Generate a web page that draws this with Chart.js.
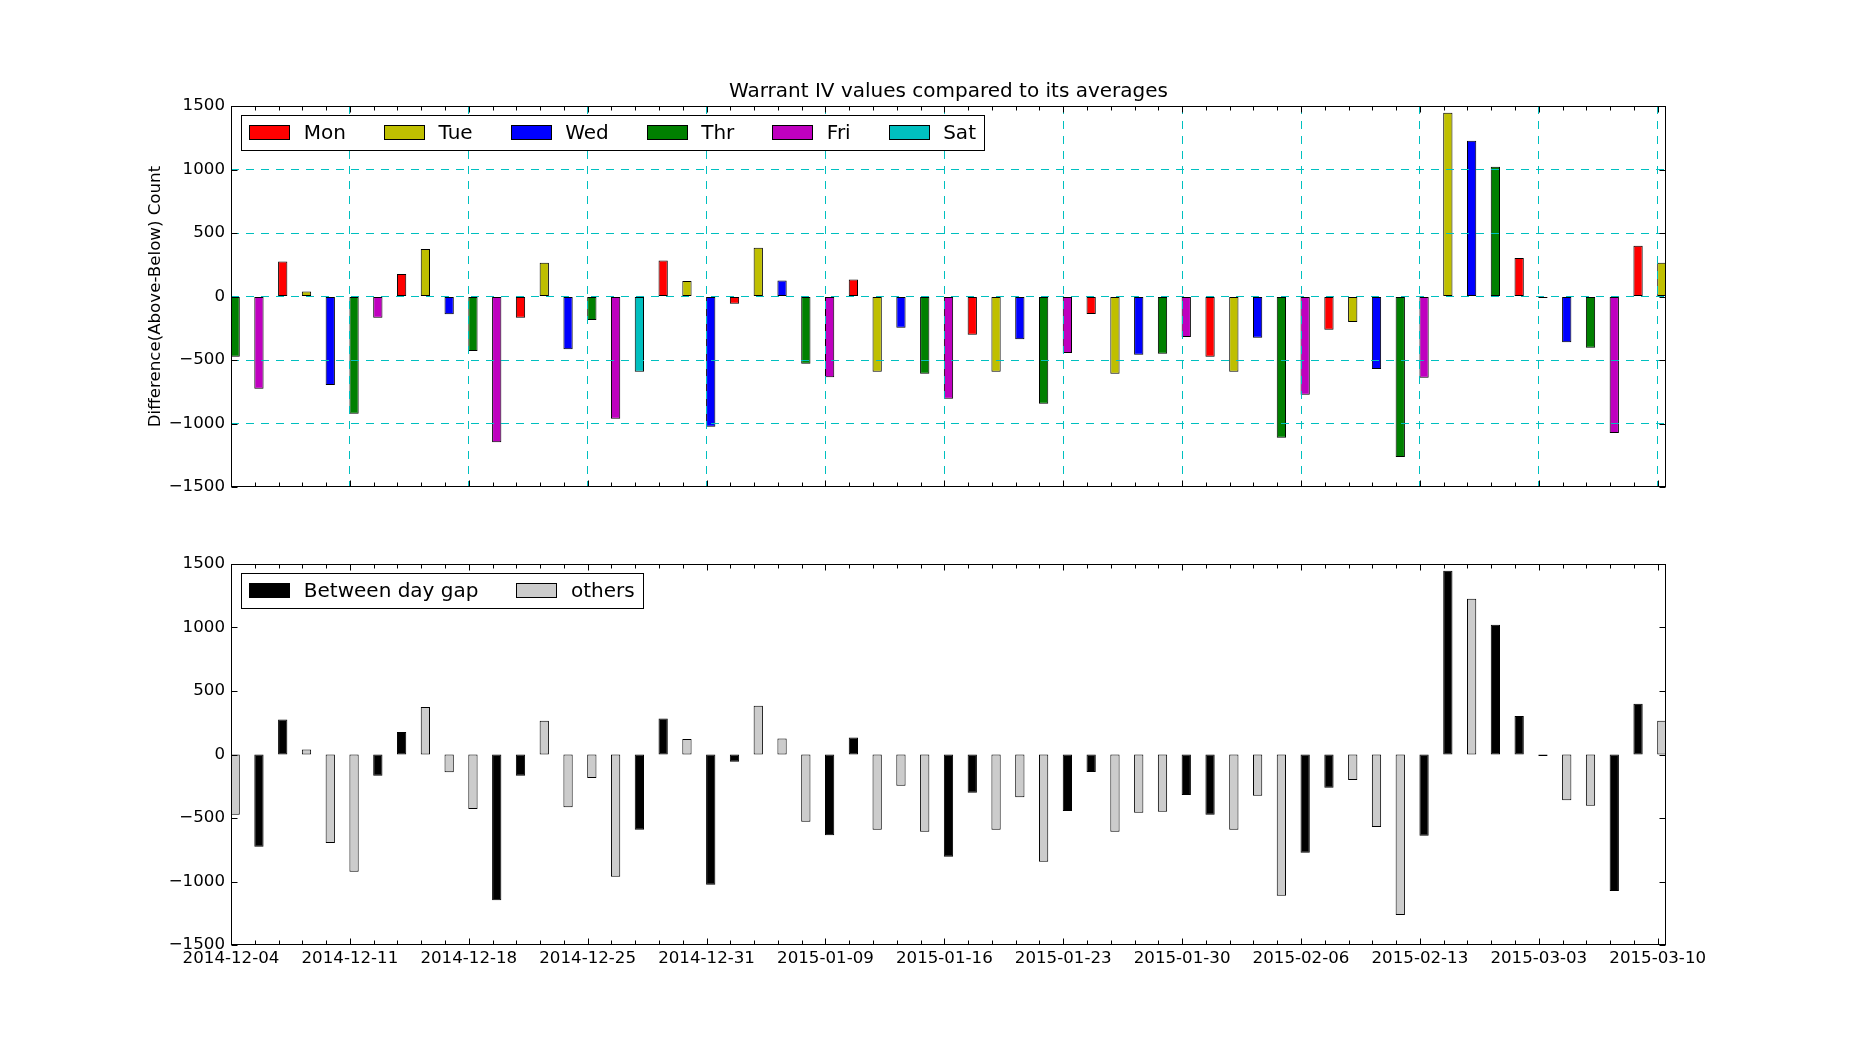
<!DOCTYPE html>
<html>
<head>
<meta charset="utf-8">
<script src="https://cdn.jsdelivr.net/npm/chart.js@4.4.1/dist/chart.umd.min.js"></script>
<style>
  html, body { margin: 0; padding: 0; background: #fff; width: 1850px; height: 1050px; overflow: hidden; }
  canvas { position: absolute; left: 0; }
  #topChart { top: 0; }
  #bottomChart { top: 525px; }
</style>
</head>
<body>
<canvas id="topChart" width="1850" height="525"></canvas>
<canvas id="bottomChart" width="1850" height="525"></canvas>
<script>
// ---------------- data ----------------
const dates = [
  '2014-12-04','2014-12-05','2014-12-08','2014-12-09','2014-12-10','2014-12-11','2014-12-12','2014-12-15','2014-12-16','2014-12-17',
  '2014-12-18','2014-12-19','2014-12-22','2014-12-23','2014-12-24','2014-12-25','2014-12-26','2014-12-27','2014-12-29','2014-12-30',
  '2014-12-31','2015-01-05','2015-01-06','2015-01-07','2015-01-08','2015-01-09','2015-01-12','2015-01-13','2015-01-14','2015-01-15',
  '2015-01-16','2015-01-19','2015-01-20','2015-01-21','2015-01-22','2015-01-23','2015-01-26','2015-01-27','2015-01-28','2015-01-29',
  '2015-01-30','2015-02-02','2015-02-03','2015-02-04','2015-02-05','2015-02-06','2015-02-09','2015-02-10','2015-02-11','2015-02-12',
  '2015-02-13','2015-02-24','2015-02-25','2015-02-26','2015-03-02','2015-03-03','2015-03-04','2015-03-05','2015-03-06','2015-03-09',
  '2015-03-10'
];
const weekdays = [
  'Thr','Fri','Mon','Tue','Wed','Thr','Fri','Mon','Tue','Wed',
  'Thr','Fri','Mon','Tue','Wed','Thr','Fri','Sat','Mon','Tue',
  'Wed','Mon','Tue','Wed','Thr','Fri','Mon','Tue','Wed','Thr',
  'Fri','Mon','Tue','Wed','Thr','Fri','Mon','Tue','Wed','Thr',
  'Fri','Mon','Tue','Wed','Thr','Fri','Mon','Tue','Wed','Thr',
  'Fri','Tue','Wed','Thr','Mon','Tue','Wed','Thr','Fri','Mon',
  'Tue'
];
const diffValues = [
  -475, -727, 276, 39, -696, -924, -168, 178, 375, -139,
  -430, -1147, -168, 265, -415, -186, -963, -593, 283, 123,
  -1026, -58, 383, 126, -530, -635, 134, -593, -247, -609,
  -806, -302, -593, -336, -845, -444, -137, -609, -459, -451,
  -318, -475, -593, -325, -1113, -774, -262, -200, -570, -1263,
  -640, 1446, 1226, 1021, 304, -12, -360, -404, -1074, 399,
  265
];
// 1 = day next to a non-trading gap ("Between day gap"), 0 = others
const gapDay = [
  0, 1, 1, 0, 0, 0, 1, 1, 0, 0,
  0, 1, 1, 0, 0, 0, 0, 1, 1, 0,
  1, 1, 0, 0, 0, 1, 1, 0, 0, 0,
  1, 1, 0, 0, 0, 1, 1, 0, 0, 0,
  1, 1, 0, 0, 0, 1, 1, 0, 0, 0,
  1, 1, 0, 1, 1, 0, 0, 0, 1, 1,
  0
];
const dayNames = ['Mon', 'Tue', 'Wed', 'Thr', 'Fri', 'Sat'];
const dayColors = ['#ff0000', '#bfbf00', '#0000ff', '#008000', '#bf00bf', '#00bfbf'];
const gapNames = ['Between day gap', 'others'];
const gapColors = ['#000000', '#cccccc'];
const chartTitle = 'Warrant IV values compared to its averages';
const yAxisTitle = 'Difference(Above-Below) Count';
const yRange = [-1500, 1500];
const yStep = 500;
const labelEvery = 5;

// ---------------- style ----------------
const FONT = 'DejaVu Sans';
const GRID_CYAN = '#00bfbf';
const NONE = 'rgba(0,0,0,0)';
const BAR_W = 0.35;              // bar width in index units (edge aligned)
const X_MAX = dates.length - 1 + BAR_W;

Chart.defaults.font.family = FONT;
Chart.defaults.font.size = 16.67;
Chart.defaults.color = '#000';

const mplDecor = {
  id: 'mplDecor',
  afterDraw(chart, args, o) {
    const { ctx, chartArea: a, scales: { x, y } } = chart;
    const L = Math.round(a.left) + 0.5, R = Math.round(a.right) - 0.5;
    const T = Math.round(a.top) + 0.5, B = Math.round(a.bottom) - 0.5;
    ctx.save();
    ctx.strokeStyle = '#000';
    ctx.lineWidth = 1;
    ctx.setLineDash([]);
    ctx.beginPath();
    x.ticks.forEach(t => {
      const px = Math.round(x.getPixelForValue(t.value)) + 0.5;
      const len = (Math.round(t.value) % labelEvery === 0) ? 6 : 4;
      ctx.moveTo(px, B); ctx.lineTo(px, B - len);
      ctx.moveTo(px, T); ctx.lineTo(px, T + len);
    });
    y.ticks.forEach(t => {
      const py = Math.round(y.getPixelForValue(t.value)) + 0.5;
      ctx.moveTo(L, py); ctx.lineTo(L + 6, py);
      ctx.moveTo(R, py); ctx.lineTo(R - 6, py);
    });
    ctx.stroke();
    ctx.strokeRect(L, T, R - L, B - T);

    if (o.title) {
      ctx.fillStyle = '#000';
      ctx.font = '20px "' + FONT + '"';
      ctx.textAlign = 'center';
      ctx.textBaseline = 'alphabetic';
      ctx.fillText(o.title, (a.left + a.right) / 2, a.top - 9);
    }

    if (o.legend) {
      const items = o.legend;
      ctx.font = '20px "' + FONT + '"';
      const padX = 8.3, handleW = 40, handleH = 14, textPad = 14.5, colSp = 38, h = 35;
      const left = Math.round(a.left) + 10, top = Math.round(a.top) + 9;
      let w = 2 * padX;
      items.forEach((it, k) => {
        w += handleW + textPad + ctx.measureText(it.label).width + (k < items.length - 1 ? colSp : 0);
      });
      w = Math.round(w);
      ctx.fillStyle = '#fff';
      ctx.fillRect(left, top, w, h);
      ctx.strokeStyle = '#000';
      ctx.strokeRect(left + 0.5, top + 0.5, w, h);
      let xx = left + padX;
      const cy = top + 16.5;
      items.forEach(it => {
        const hx = Math.round(xx);
        ctx.fillStyle = it.color;
        ctx.fillRect(hx, Math.round(cy - handleH / 2), handleW, handleH);
        ctx.strokeRect(hx + 0.5, Math.round(cy - handleH / 2) + 0.5, handleW, handleH);
        ctx.fillStyle = '#000';
        ctx.textAlign = 'left';
        ctx.textBaseline = 'alphabetic';
        ctx.fillText(it.label, xx + handleW + textPad, cy + 7);
        xx += handleW + textPad + ctx.measureText(it.label).width + colSp;
      });
    }
    ctx.restore();
  }
};

function yScale(withGrid, withTitle) {
  return {
    type: 'linear',
    min: yRange[0],
    max: yRange[1],
    afterFit: s => { s.width = 90; },
    ticks: {
      stepSize: yStep,
      padding: 6,
      callback: v => String(v).replace('-', '\u2212')
    },
    grid: {
      display: withGrid,
      drawTicks: false,
      lineWidth: 1,
      z: 1,
      color: c => (c.tick && (c.tick.value === yRange[0] || c.tick.value === yRange[1])) ? NONE : GRID_CYAN
    },
    border: { display: false, dash: [8, 7] },
    title: {
      display: withTitle,
      text: yAxisTitle,
      font: { size: 16.67 },
      padding: { top: 5, bottom: 0 }
    }
  };
}

function xScale(showLabels, withGrid, height) {
  return {
    type: 'linear',
    min: 0,
    max: X_MAX,
    offset: false,
    bounds: 'data',
    afterFit: s => { s.height = height; },
    ticks: {
      display: showLabels,
      stepSize: 1,
      includeBounds: false,
      autoSkip: false,
      maxRotation: 0,
      minRotation: 0,
      padding: 4,
      callback: v => {
        const i = Math.round(v);
        return (Math.abs(v - i) < 1e-6 && i % labelEvery === 0 && dates[i]) ? dates[i] : '';
      }
    },
    grid: {
      display: withGrid,
      offset: false,
      drawTicks: false,
      lineWidth: 1,
      z: 1,
      color: c => {
        if (!c.tick) return NONE;
        const i = Math.round(c.tick.value);
        return (i > 0 && i % labelEvery === 0) ? GRID_CYAN : NONE;
      }
    },
    border: { display: false, dash: [8, 7] }
  };
}

const barStyle = {
  borderColor: '#000',
  borderWidth: 1,
  borderSkipped: false,
  grouped: false,
  barPercentage: 0.39,
  categoryPercentage: 1
};

// ---------------- top chart ----------------
new Chart(document.getElementById('topChart'), {
  type: 'bar',
  data: {
    datasets: dayNames.map((d, k) => Object.assign({
      label: d,
      backgroundColor: dayColors[k],
      data: diffValues
        .map((v, i) => weekdays[i] === d ? { x: i + BAR_W / 2, y: v } : null)
        .filter(p => p !== null)
    }, barStyle))
  },
  options: {
    responsive: false,
    animation: false,
    events: [],
    layout: { padding: { left: 141, right: 184, top: 106, bottom: 38 } },
    scales: {
      x: xScale(false, true, 0),
      y: yScale(true, true)
    },
    plugins: {
      legend: { display: false },
      tooltip: { enabled: false },
      mplDecor: {
        title: chartTitle,
        legend: dayNames.map((d, k) => ({ label: d, color: dayColors[k] }))
      }
    }
  },
  plugins: [mplDecor]
});

// ---------------- bottom chart ----------------
new Chart(document.getElementById('bottomChart'), {
  type: 'bar',
  data: {
    datasets: gapNames.map((g, k) => Object.assign({
      label: g,
      backgroundColor: gapColors[k],
      data: diffValues
        .map((v, i) => (gapDay[i] === (k === 0 ? 1 : 0)) ? { x: i + BAR_W / 2, y: v } : null)
        .filter(p => p !== null)
    }, barStyle))
  },
  options: {
    responsive: false,
    animation: false,
    events: [],
    layout: { padding: { left: 141, right: 184, top: 39, bottom: 65 } },
    scales: {
      x: xScale(true, false, 40),
      y: yScale(false, false)
    },
    plugins: {
      legend: { display: false },
      tooltip: { enabled: false },
      mplDecor: {
        title: null,
        legend: gapNames.map((g, k) => ({ label: g, color: gapColors[k] }))
      }
    }
  },
  plugins: [mplDecor]
});
</script>
</body>
</html>
